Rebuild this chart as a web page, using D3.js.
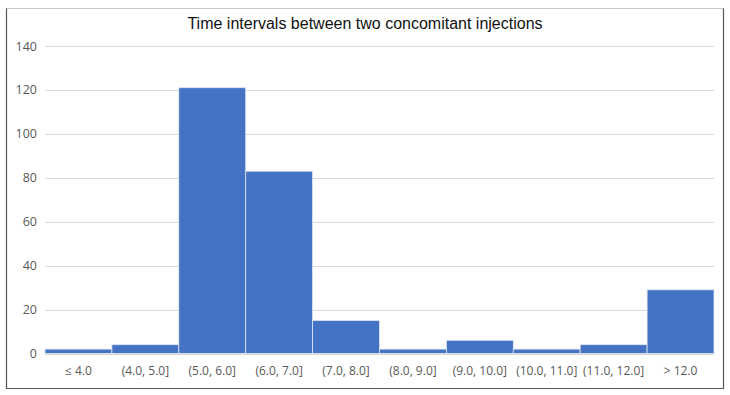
<!DOCTYPE html>
<html>
<head>
<meta charset="utf-8">
<script src="https://cdn.jsdelivr.net/npm/d3@7"></script>
<style>
  body { margin: 0; background: #fff; }
  svg { display: block; }
</style>
</head>
<body>
<svg id="chart" width="730" height="395"></svg>
<script>
const categories = ['≤ 4.0', '(4.0, 5.0]', '(5.0, 6.0]', '(6.0, 7.0]', '(7.0, 8.0]',
  '(8.0, 9.0]', '(9.0, 10.0]', '(10.0, 11.0]', '(11.0, 12.0]', '> 12.0'];
const counts = [2, 4, 121, 83, 15, 2, 6, 2, 4, 29];
const yTicks = [0, 20, 40, 60, 80, 100, 120, 140];
const title = 'Time intervals between two concomitant injections';

const svg = d3.select('#chart');
const plotLeft = 45, plotRight = 714, plotTop = 46, plotBottom = 353.5;

// outer frame
svg.append('rect')
  .attr('x', 6.5).attr('y', 8.5).attr('width', 717).attr('height', 380)
  .attr('fill', 'none').attr('stroke', '#c8c8c8');
svg.append('path')
  .attr('d', 'M6.5,8.5V388.5H723.5V8.5')
  .attr('fill', 'none').attr('stroke', '#555').attr('stroke-width', 1.2);

svg.append('text')
  .attr('x', 365).attr('y', 29)
  .attr('text-anchor', 'middle')
  .style('font-family', 'Liberation Sans, Arial, sans-serif')
  .style('font-size', '16px')
  .attr('fill', '#111')
  .text(title);

const x = d3.scaleBand().domain(categories).range([plotLeft, plotRight]).padding(0);
const y = d3.scaleLinear().domain([0, 140]).range([plotBottom, plotTop]);

// gridlines
svg.append('g')
  .selectAll('line')
  .data(yTicks)
  .join('line')
  .attr('x1', plotLeft).attr('x2', plotRight)
  .attr('y1', d => Math.round(y(d)) + 0.5).attr('y2', d => Math.round(y(d)) + 0.5)
  .attr('stroke', '#d9d9d9').attr('stroke-width', 1);

const yAxis = svg.append('g')
  .attr('transform', `translate(${plotLeft - 8},0)`)
  .call(d3.axisLeft(y).tickValues(yTicks).tickSize(0).tickPadding(0));
yAxis.select('.domain').remove();
yAxis.selectAll('text')
  .style('font-family', 'Open Sans, sans-serif')
  .style('font-size', '12.5px')
  .attr('fill', '#595959');

// bars
svg.append('g')
  .selectAll('rect')
  .data(counts)
  .join('rect')
  .attr('x', (d, i) => x(categories[i]))
  .attr('width', x.bandwidth())
  .attr('y', d => y(d))
  .attr('height', d => plotBottom - y(d))
  .attr('fill', '#4472c4')
  .attr('stroke', '#dfe6f3')
  .attr('stroke-width', 0.8);

const xAxis = svg.append('g')
  .attr('transform', `translate(0,${plotBottom})`)
  .call(d3.axisBottom(x).tickSize(0).tickPadding(13));
xAxis.select('.domain').attr('stroke', '#d9d9d9');
xAxis.selectAll('text')
  .style('font-family', 'Open Sans, sans-serif')
  .style('font-size', '12px')
  .attr('fill', '#595959');
</script>
</body>
</html>
